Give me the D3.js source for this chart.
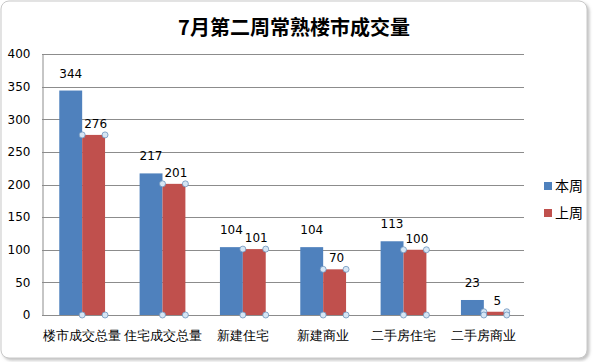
<!DOCTYPE html>
<html>
<head>
<meta charset="utf-8">
<script src="https://cdn.jsdelivr.net/npm/d3@7"></script>
<style>
  body { margin: 0; background: #fff; }
  svg { display: block; font-family: "Noto Sans CJK SC", "DejaVu Sans", sans-serif; }
</style>
</head>
<body>
<script>
var
  categories = ['楼市成交总量', '住宅成交总量', '新建住宅', '新建商业', '二手房住宅', '二手房商业'],
  thisWeek = [344, 217, 104, 104, 113, 23],
  lastWeek = [276, 201, 101, 70, 100, 5],
  seriesNames = ['本周', '上周'],
  yTicks = [0, 50, 100, 150, 200, 250, 300, 350, 400],

  config = {
    w : 595,
    h : 362,
    left : 42,
    right : 524,
    top : 54,
    bottom : 315
  },

  colors = ['#4F81BD', '#C0504D'],

  drawChart = function drawChart() {
    var svg = d3.select('body').append('svg')
      .attr('width', config.w).attr('height', config.h);

    // frame with a soft shadow
    var defs = svg.append('defs');
    var f = defs.append('filter').attr('id', 'sh').attr('x', '-5%').attr('y', '-5%').attr('width', '110%').attr('height', '110%');
    f.append('feDropShadow').attr('dx', 2).attr('dy', 2).attr('stdDeviation', 1.5).attr('flood-color', '#999').attr('flood-opacity', 0.6);

    svg.append('rect')
      .attr('x', 1).attr('y', 1).attr('width', 586).attr('height', 357)
      .attr('rx', 8).attr('fill', '#fff').attr('stroke', '#c8c8c8')
      .attr('filter', 'url(#sh)');

    svg.append('text')
      .attr('x', 294).attr('y', 35)
      .attr('text-anchor', 'middle')
      .attr('font-size', 20).attr('font-weight', 'bold')
      .text('7月第二周常熟楼市成交量');

    var x = d3.scaleBand().domain(categories).range([config.left, config.right]).paddingInner(0.43).paddingOuter(0.215);
    var xs = d3.scaleBand().domain([0, 1]).range([0, x.bandwidth()]);
    var y = d3.scaleLinear().domain([0, 400]).range([config.bottom, config.top]);

    // gridlines
    svg.append('g').selectAll('line').data(yTicks).enter().append('line')
      .attr('x1', config.left).attr('x2', config.right)
      .attr('y1', function (d) { return Math.round(y(d)) + 0.5; })
      .attr('y2', function (d) { return Math.round(y(d)) + 0.5; })
      .attr('stroke', '#8c8c8c');

    var yAxis = svg.append('g')
      .attr('transform', 'translate(' + (config.left + 0.5) + ',0)')
      .call(d3.axisLeft(y).tickValues(yTicks).tickSize(0).tickPadding(12));
    yAxis.select('.domain').attr('stroke', '#8c8c8c');
    yAxis.selectAll('text').attr('font-size', 12).attr('fill', '#000')
      .attr('font-family', '"DejaVu Sans", sans-serif');

    var xAxis = svg.append('g')
      .attr('transform', 'translate(0,' + (config.bottom + 12) + ')')
      .call(d3.axisBottom(x).tickSize(0).tickPadding(4));
    xAxis.select('.domain').remove();
    xAxis.selectAll('text').attr('font-size', 13).attr('fill', '#000');

    var series = [thisWeek, lastWeek];
    series.forEach(function (vals, s) {
      var g = svg.append('g');
      g.selectAll('rect').data(vals).enter().append('rect')
        .attr('x', function (d, i) { return x(categories[i]) + xs(s); })
        .attr('y', function (d) { return y(d); })
        .attr('width', xs.bandwidth())
        .attr('height', function (d) { return y(0) - y(d); })
        .attr('fill', colors[s]);

      g.selectAll('text').data(vals).enter().append('text')
        .attr('x', function (d, i) { return x(categories[i]) + xs(s) + xs.bandwidth() / 2 + (s ? 2 : 0); })
        .attr('y', function (d) { return y(d) - (s ? 7 : 13); })
        .attr('text-anchor', 'middle')
        .attr('font-size', 12)
        .attr('font-family', '"DejaVu Sans", sans-serif')
        .text(function (d) { return d; });
    });

    // selection handles on the red series
    var handles = [];
    lastWeek.forEach(function (d, i) {
      var x0 = x(categories[i]) + xs(1), x1 = x0 + xs.bandwidth();
      handles.push([x0, y(d)], [x1, y(d)], [x0, y(0)], [x1, y(0)]);
    });
    svg.append('g').selectAll('circle').data(handles).enter().append('circle')
      .attr('cx', function (d) { return d[0]; })
      .attr('cy', function (d) { return d[1]; })
      .attr('r', 3)
      .attr('fill', '#d6e6f5').attr('stroke', '#6f94bd').attr('stroke-width', 0.8);

    // legend
    var lg = svg.append('g').attr('transform', 'translate(544,186)');
    seriesNames.forEach(function (n, i) {
      lg.append('rect').attr('x', 0).attr('y', i * 27 - 4).attr('width', 8).attr('height', 8).attr('fill', colors[i]);
      lg.append('text').attr('x', 11).attr('y', i * 27 + 5).attr('font-size', 14).text(n);
    });
  };

drawChart();
</script>
</body>
</html>
